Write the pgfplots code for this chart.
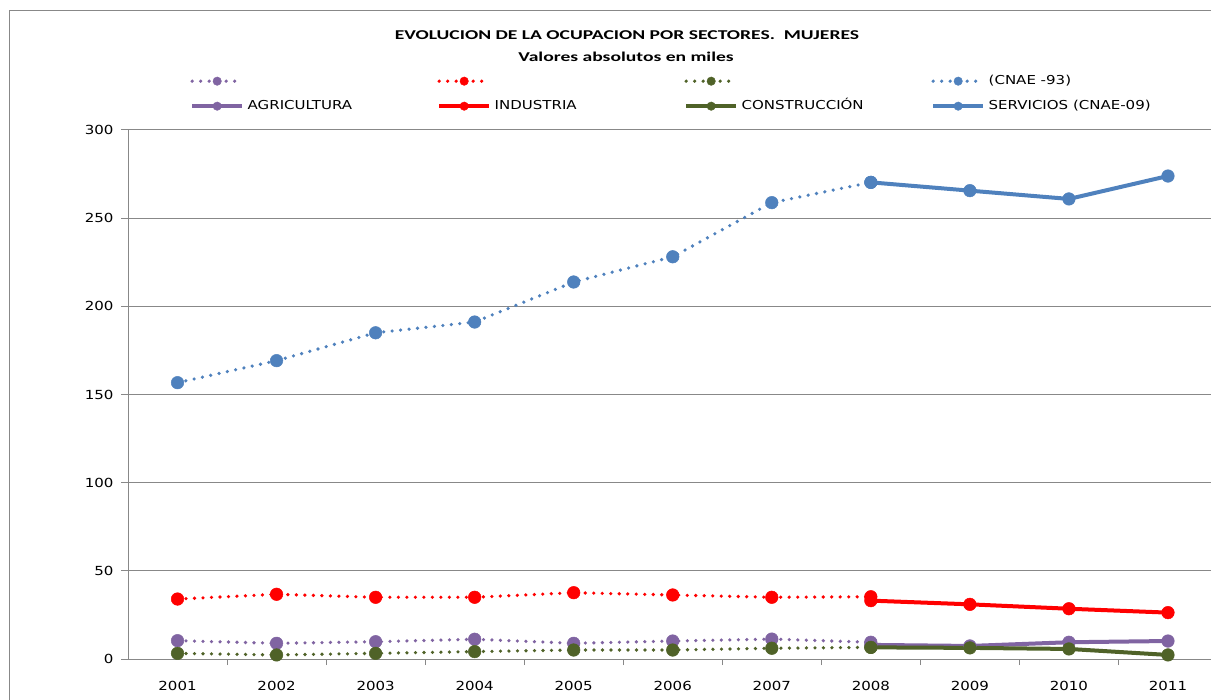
\documentclass[border=0pt]{standalone}
\usepackage{pgfplots}
\pgfplotsset{compat=1.18}
\usepackage{fontspec}
\setmainfont{DejaVu Sans}[FakeStretch=1.2]
\newfontfamily\titlefont{Carlito}[FakeStretch=1.45]
\newfontfamily\legfont{DejaVu Sans}[FakeStretch=1.22]
\definecolor{agri}{HTML}{8064A2}
\definecolor{ind}{HTML}{FF0000}
\definecolor{con}{HTML}{4F6228}
\definecolor{serv}{HTML}{4F81BD}
\definecolor{frame}{HTML}{888888}
\newcommand{\legbox}[1]{\makebox[193bp][l]{\hspace{3.5bp}#1}}
\pgfplotsset{
  dotser/.style={line width=3.6bp, line cap=round, dash pattern=on 0bp off 8.5bp, mark=*, mark size=6.3bp, color=#1, mark options={solid, line width=0.5bp, fill=#1, draw=#1}},
  solser/.style={line width=4bp, solid, mark=*, mark size=6.3bp, color=#1, mark options={solid, line width=0.5bp, fill=#1, draw=#1}},
}
\begin{document}
\begin{tikzpicture}
\path[use as bounding box] (0,0) rectangle (1211bp,700bp);
\draw[frame, line width=1bp] (9.5bp,-20bp) rectangle (1230bp,689bp);
\node[font=\titlefont\bfseries\fontsize{13.5bp}{15bp}\selectfont] at (627bp,665bp) {EVOLUCION DE LA OCUPACION POR SECTORES.\ \ MUJERES};
\node[font=\titlefont\bfseries\fontsize{13.5bp}{15bp}\selectfont] at (626bp,643bp) {Valores absolutos en miles};
\begin{axis}[
  at={(128bp,41bp)}, anchor=south west,
  scale only axis, width=1089.5bp, height=529bp,
  xmin=2000.5, xmax=2011.5, ymin=0, ymax=300,
  xtick={2001,2002,2003,2004,2005,2006,2007,2008,2009,2010,2011},
  xticklabels={2001,2002,2003,2004,2005,2006,2007,2008,2009,2010,2011},
  ytick={0,50,100,150,200,250,300},
  yticklabels={0,50,100,150,200,250,300},
  minor xtick={2001.5,2002.5,2003.5,2004.5,2005.5,2006.5,2007.5,2008.5,2009.5,2010.5},
  ticklabel style={font=\fontsize{12.5bp}{14bp}\selectfont},
  xticklabel style={yshift=-12bp},
  yticklabel style={xshift=-4bp},
  major x tick style={draw=none},
  tick style={frame, line width=1bp},
  tick align=outside,
  major tick length=7bp, minor tick length=6bp,
  xtick pos=bottom, ytick pos=left,
  ymajorgrids, grid style={frame, line width=1bp},
  separate axis lines,
  axis x line*=bottom, axis y line*=left,
  axis line style={frame, line width=1bp, -},
  clip=false,
  legend columns=4,
  legend cell align=left,
  legend style={at={(0.0569,1.1040)}, anchor=north west, draw=none, fill=none, inner sep=0pt,
    row sep=13bp, font=\legfont\fontsize{12.3bp}{14bp}\selectfont,
    nodes={inner sep=0pt, text height=9bp, text depth=3bp}},
  legend image code/.code={\draw[mark repeat=2, mark phase=2, #1, mark size=4.2bp] plot coordinates {(0bp,0bp) (25bp,0bp) (50bp,0bp)};},
]
\addplot[dotser=agri] coordinates {(2001,10.4) (2002,8.9) (2003,9.8) (2004,11.2) (2005,8.9) (2006,10.2) (2007,11.3) (2008,9.5)};
\addlegendentry{\legbox{}}
\addplot[dotser=ind] coordinates {(2001,34.0) (2002,36.7) (2003,35.0) (2004,35.0) (2005,37.6) (2006,36.3) (2007,35.0) (2008,35.3)};
\addlegendentry{\legbox{}}
\addplot[dotser=con] coordinates {(2001,3.2) (2002,2.3) (2003,3.2) (2004,4.2) (2005,5.1) (2006,5.1) (2007,6.1) (2008,6.6)};
\addlegendentry{\legbox{}}
\addplot[dotser=serv] coordinates {(2001,156.7) (2002,169.2) (2003,185.0) (2004,191.1) (2005,213.8) (2006,228.1) (2007,258.8) (2008,270.3)};
\addlegendentry{\legbox{(CNAE -93)}}
\addplot[solser=agri] coordinates {(2008,8.0) (2009,7.4) (2010,9.5) (2011,10.2)};
\addlegendentry{\legbox{AGRICULTURA}}
\addplot[solser=ind] coordinates {(2008,33.1) (2009,31.0) (2010,28.5) (2011,26.3)};
\addlegendentry{\legbox{INDUSTRIA}}
\addplot[solser=con] coordinates {(2008,6.6) (2009,6.3) (2010,5.7) (2011,2.3)};
\addlegendentry{\legbox{CONSTRUCCIÓN}}
\addplot[solser=serv] coordinates {(2008,270.3) (2009,265.6) (2010,260.9) (2011,273.9)};
\addlegendentry{\legbox{SERVICIOS (CNAE-09)}}
\end{axis}
\end{tikzpicture}
\end{document}
